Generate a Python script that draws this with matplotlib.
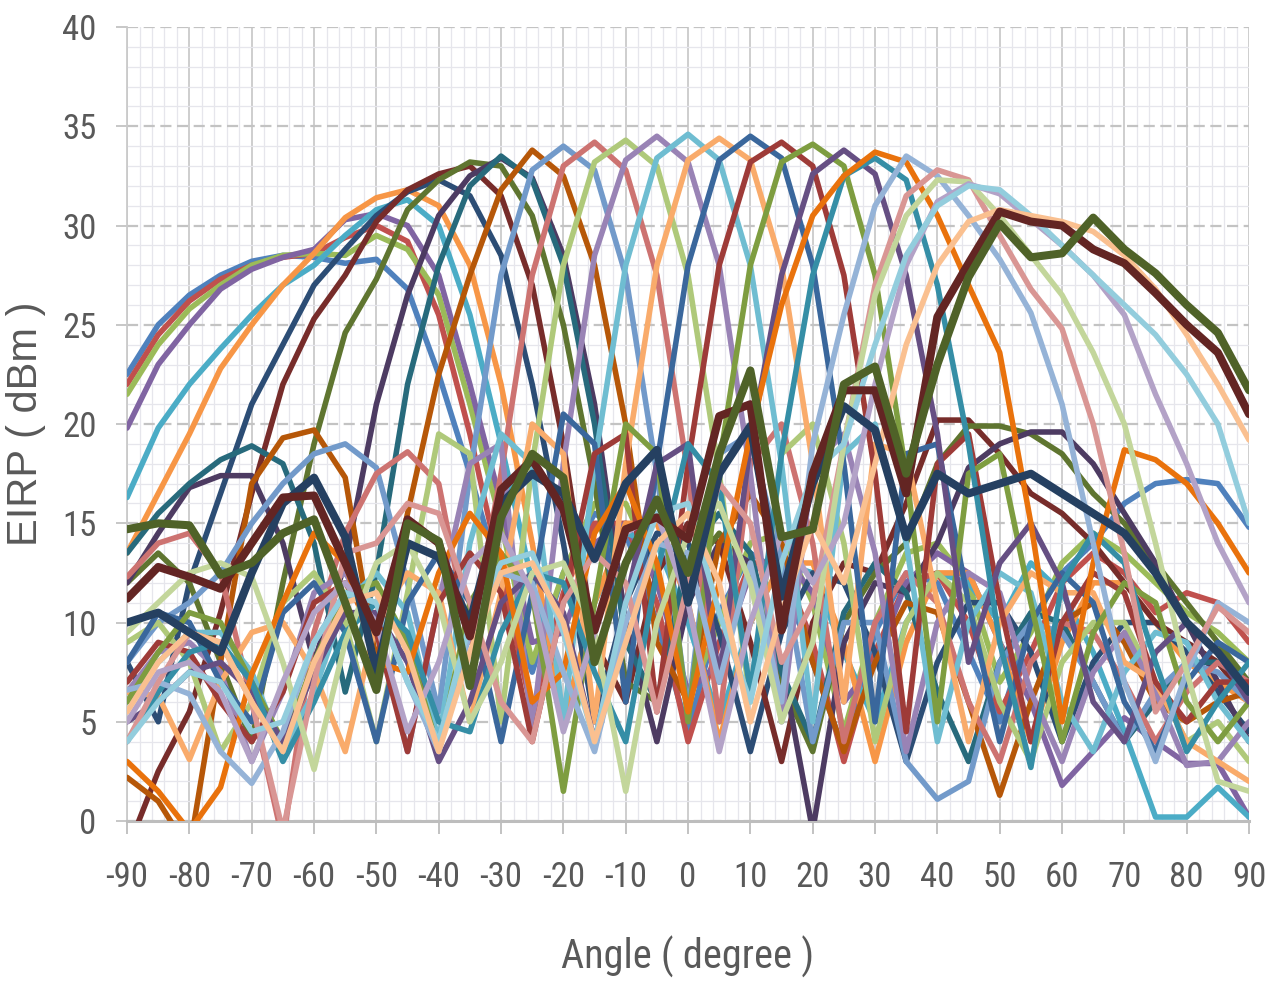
import matplotlib
matplotlib.use("Agg")
import matplotlib.pyplot as plt
from matplotlib.ticker import MultipleLocator
from matplotlib import font_manager
from matplotlib.font_manager import FontProperties

plt.rcParams['axes.unicode_minus'] = False

# angle grid of the measurement (degrees)
angles = list(range(-90, 95, 5))

# EIRP (dBm) per beam
s01 = [22.5, 25.0, 26.5, 27.5, 28.2, 28.5, 28.4, 28.1, 28.3, 26.8, 22.5, 17.5, 12.0, 7.5, 12.5, 15.5, 14.5, 10.0, 4.5, 10.5, 13.5, 12.5, 8.0, 3.5, 9.5, 12.5, 12.0, 8.5, 5.0, 10.0, 12.5, 14.0, 16.0, 17.0, 17.2, 17.0, 14.8]
s02 = [22.0, 24.5, 26.2, 27.3, 28.0, 28.4, 28.6, 29.4, 30.0, 29.2, 25.5, 19.5, 12.5, 5.5, 11.5, 15.0, 15.0, 11.0, 4.0, 9.0, 13.0, 13.0, 9.0, 3.0, 8.5, 12.0, 12.5, 10.0, 5.5, 8.5, 12.0, 13.5, 12.5, 10.5, 11.5, 11.0, 9.0]
s03 = [21.5, 24.0, 25.8, 27.0, 28.0, 28.5, 28.6, 28.5, 29.5, 28.8, 26.5, 21.0, 15.0, 8.0, 12.5, 16.0, 16.0, 12.5, 6.0, 10.0, 14.0, 14.5, 11.0, 4.5, 10.0, 13.5, 14.0, 12.0, 7.0, 9.5, 13.0, 14.5, 13.5, 12.0, 10.5, 9.5, 8.0]
s04 = [19.8, 23.0, 25.0, 26.8, 27.8, 28.4, 28.8, 30.3, 30.6, 30.0, 27.5, 22.0, 16.0, 9.0, 9.5, 14.0, 15.0, 12.0, 6.5, 8.0, 12.5, 13.5, 11.5, 6.0, 8.0, 12.0, 13.5, 12.5, 9.0, 6.0, 1.8, 3.5, 5.2, 4.0, 2.9, 2.9, 0.2]
s05 = [16.3, 19.8, 22.0, 23.8, 25.5, 27.0, 28.0, 29.5, 30.8, 31.3, 30.0, 25.5, 19.0, 12.0, 5.0, 11.0, 14.5, 14.0, 10.0, 5.0, 10.0, 13.0, 12.5, 8.5, 5.0, 10.0, 12.5, 12.0, 10.0, 13.0, 11.5, 8.5, 4.5, 0.2, 0.2, 1.7, 0.2]
s06 = [13.5, 16.5, 19.5, 22.8, 25.0, 27.0, 28.6, 30.4, 31.4, 31.8, 31.0, 28.0, 22.0, 14.0, 5.0, 11.0, 15.0, 15.0, 11.0, 4.0, 10.0, 13.0, 13.0, 9.0, 3.0, 9.0, 12.5, 12.5, 9.0, 4.0, 9.0, 12.0, 12.0, 10.0, 8.0, 7.0, 6.0]
s07 = [8.0, 5.0, 12.0, 16.5, 21.0, 24.0, 27.0, 28.8, 30.5, 31.7, 32.3, 31.5, 28.5, 22.0, 14.0, 5.0, 11.0, 14.5, 14.0, 9.5, 3.5, 9.5, 12.5, 12.0, 8.5, 3.0, 8.0, 11.0, 11.0, 8.5, 4.0, 8.0, 10.0, 10.0, 8.5, 6.5, 4.5]
s08 = [-1.5, 2.5, 5.5, 10.5, 16.5, 22.0, 25.3, 27.5, 30.2, 31.8, 32.6, 33.0, 31.5, 27.0, 19.0, 9.0, 6.0, 12.5, 15.0, 14.0, 9.0, 3.0, 10.0, 13.0, 12.5, 16.0, 20.2, 20.2, 18.5, 16.5, 15.5, 14.0, 12.0, 10.0, 9.0, 8.0, 6.0]
s09 = [12.0, 13.5, 12.0, 8.0, 4.0, 12.0, 19.0, 24.6, 27.3, 30.8, 32.3, 33.2, 33.0, 30.5, 25.0, 17.0, 7.0, 6.0, 12.5, 14.5, 12.5, 7.0, 3.5, 10.0, 12.5, 14.0, 18.0, 19.9, 19.9, 19.5, 18.5, 16.5, 15.0, 13.0, 11.0, 9.0, 7.0]
s10 = [12.0, 14.5, 16.8, 17.4, 17.4, 14.0, 8.0, 13.0, 21.0, 26.5, 30.5, 32.5, 33.4, 32.4, 28.5, 21.0, 10.0, 4.0, 11.0, 14.0, 13.0, 8.0, -0.5, 9.0, 12.0, 11.5, 14.0, 17.8, 19.0, 19.6, 19.6, 18.0, 15.5, 13.0, 10.0, 7.0, 4.0]
s11 = [13.5, 15.5, 17.0, 18.2, 18.9, 18.0, 14.0, 6.5, 12.5, 22.0, 28.0, 32.0, 33.5, 32.3, 28.0, 20.0, 9.0, 6.0, 13.5, 15.5, 13.5, 7.5, 4.0, 10.5, 13.0, 11.5, 6.5, 3.0, 8.0, 10.5, 10.0, 7.0, 4.0, 6.0, 8.0, 8.0, 7.0]
s12 = [2.2, 1.0, -1.5, 8.0, 17.0, 19.3, 19.7, 17.3, 8.0, 15.5, 22.5, 27.5, 31.8, 33.8, 32.5, 28.0, 20.0, 9.0, 6.0, 14.0, 16.5, 14.0, 8.0, 3.5, 8.0, 11.0, 10.5, 6.0, 1.3, 6.0, 10.0, 11.0, 9.0, 6.0, 5.0, 6.0, 6.5]
s13 = [8.0, 10.0, 11.0, 12.5, 15.0, 17.0, 18.5, 19.0, 17.8, 12.0, 5.5, 17.5, 27.5, 32.8, 34.0, 32.8, 27.5, 17.5, 5.5, 18.5, 19.5, 13.0, 4.0, 10.0, 10.0, 3.0, 1.1, 2.0, 8.0, 10.0, 9.5, 7.0, 4.0, 6.5, 8.0, 7.5, 6.0]
s14 = [12.3, 14.0, 14.5, 12.5, 6.0, -1.0, 9.5, 14.5, 17.5, 18.6, 17.0, 9.0, 17.5, 27.5, 33.0, 34.2, 32.8, 27.5, 17.5, 5.0, 18.0, 20.0, 14.0, 4.0, 10.0, 12.5, 11.0, 6.0, 3.0, 8.0, 10.0, 9.5, 7.0, 4.0, 6.5, 8.0, 7.0]
s15 = [9.0, 10.0, 8.0, 3.5, 6.0, 11.0, 12.5, 10.0, 4.0, 11.5, 19.5, 18.5, 5.0, 18.0, 28.0, 33.2, 34.3, 33.0, 27.5, 17.5, 6.0, 18.5, 20.0, 14.0, 4.0, 10.0, 12.5, 11.0, 6.0, 3.0, 8.0, 10.0, 10.0, 7.0, 4.0, 5.0, 3.0]
s16 = [6.5, 8.5, 9.0, 7.5, 3.0, 6.5, 11.5, 12.5, 10.0, 3.5, 11.0, 18.0, 19.0, 4.5, 18.0, 28.5, 33.3, 34.5, 33.2, 28.0, 17.5, 5.0, 18.0, 19.5, 13.5, 3.5, 10.0, 12.5, 11.5, 6.5, 3.0, 7.5, 9.5, 6.5, 2.8, 3.0, 5.0]
s17 = [6.0, 8.0, 9.5, 9.5, 7.5, 3.5, 6.5, 11.0, 12.5, 10.5, 4.0, 14.0, 19.5, 18.0, 5.0, 18.0, 28.0, 33.4, 34.6, 33.3, 28.0, 18.0, 5.0, 18.5, 20.0, 14.0, 4.0, 10.0, 12.5, 11.5, 6.0, 3.5, 7.5, 9.5, 9.0, 6.0, 4.0]
s18 = [6.5, 6.3, 3.1, 7.0, 9.5, 10.0, 7.5, 3.5, 10.0, 12.5, 11.5, 5.0, 11.5, 20.0, 18.5, 5.0, 18.0, 28.0, 33.3, 34.4, 33.3, 28.0, 18.0, 6.0, 19.0, 18.5, 11.0, 4.0, 10.0, 12.5, 11.5, 11.5, 8.0, 7.0, 4.0, 3.0, 2.0]
s19 = [8.0, 10.5, 10.0, 7.0, 5.0, 10.5, 12.0, 9.5, 4.0, 11.0, 13.5, 11.0, 4.0, 11.5, 20.5, 19.0, 6.0, 18.0, 28.0, 33.3, 34.5, 33.4, 28.0, 18.0, 5.0, 18.5, 19.0, 11.0, 4.0, 10.0, 12.5, 11.0, 6.0, 3.5, 7.0, 9.0, 8.0]
s20 = [7.0, 9.0, 8.5, 6.0, 4.0, 6.5, 11.0, 12.0, 9.5, 3.5, 11.0, 13.5, 11.5, 4.0, 11.0, 18.5, 19.5, 5.5, 18.0, 28.0, 33.2, 34.2, 33.0, 27.5, 17.5, 4.5, 18.0, 19.5, 11.0, 4.0, 10.0, 12.5, 11.5, 7.0, 5.0, 7.0, 7.0]
s21 = [6.0, 8.5, 10.5, 10.0, 7.0, 4.0, 8.0, 11.5, 12.0, 9.0, 3.5, 11.0, 13.5, 11.5, 1.5, 11.0, 20.0, 18.5, 5.0, 18.0, 28.0, 33.2, 34.1, 33.0, 27.5, 17.5, 5.0, 17.5, 18.5, 11.0, 4.0, 9.5, 12.0, 11.0, 6.0, 4.0, 6.0]
s22 = [5.0, 6.0, 7.5, 8.0, 6.5, 4.0, 7.5, 10.5, 10.5, 8.0, 3.0, 6.0, 11.0, 12.5, 10.5, 4.0, 11.0, 18.0, 19.0, 7.0, 19.0, 27.5, 32.6, 33.8, 32.6, 27.5, 19.5, 8.0, 13.0, 15.0, 12.0, 6.0, 4.0, 8.5, 10.0, 8.5, 6.0]
s23 = [4.0, 6.5, 8.5, 9.0, 7.0, 3.0, 6.0, 9.5, 11.0, 9.5, 5.0, 4.5, 9.5, 12.5, 12.0, 7.5, 4.0, 12.5, 19.0, 17.0, 6.5, 18.5, 27.5, 32.5, 33.4, 32.3, 27.0, 19.0, 9.0, 2.7, 12.0, 14.5, 13.0, 8.0, 3.5, 6.0, 8.0]
s24 = [3.0, 1.5, -0.5, 1.7, 7.4, 11.0, 14.5, 13.0, 8.0, 7.5, 12.5, 15.5, 13.5, 6.0, 7.5, 14.5, 17.0, 13.0, 5.5, 12.0, 19.5, 26.0, 30.5, 32.5, 33.7, 33.2, 30.5, 27.0, 23.6, 15.0, 5.0, 13.0, 18.7, 18.2, 17.0, 15.0, 12.5]
s25 = [6.6, 7.0, 6.4, 3.5, 1.9, 4.5, 9.0, 11.5, 11.0, 7.0, 3.5, 9.5, 12.5, 12.0, 7.5, 3.5, 10.0, 14.0, 13.5, 7.0, 13.0, 6.0, 19.0, 25.5, 31.0, 33.5, 32.5, 30.5, 28.3, 25.6, 21.0, 14.0, 7.0, 3.0, 7.5, 11.0, 10.0]
s26 = [4.0, 7.0, 9.5, 9.0, 6.0, -0.5, 7.0, 13.5, 14.0, 16.0, 15.5, 11.0, 6.0, 4.0, 11.0, 13.5, 12.0, 5.5, 12.0, 17.0, 15.0, 8.0, 11.0, 19.0, 27.0, 31.5, 32.8, 32.3, 29.5, 26.8, 24.8, 20.0, 13.5, 5.5, 8.0, 10.8, 9.5]
s27 = [9.5, 11.0, 12.5, 13.0, 12.3, 8.0, 2.6, 9.0, 13.0, 14.0, 11.0, 5.0, 8.0, 12.5, 13.0, 9.5, 1.5, 10.0, 14.5, 16.0, 12.0, 5.0, 9.0, 19.0, 26.5, 30.5, 32.3, 32.2, 30.5, 28.5, 26.5, 23.6, 20.0, 14.0, 7.5, 2.0, 1.5]
s28 = [5.0, 7.5, 8.0, 6.5, 3.0, 7.0, 10.5, 12.0, 10.0, 4.5, 8.0, 13.0, 14.5, 11.5, 4.5, 9.5, 14.5, 15.5, 11.0, 3.5, 10.0, 14.5, 12.0, 15.0, 22.0, 28.0, 31.2, 32.1, 31.6, 30.3, 29.0, 27.5, 25.5, 21.5, 18.0, 14.0, 11.0]
s29 = [4.0, 6.0, 7.5, 7.0, 4.5, 5.0, 9.0, 11.5, 11.0, 7.0, 4.0, 10.0, 13.0, 13.5, 9.5, 4.0, 11.0, 15.5, 16.0, 10.5, 6.0, 13.0, 17.5, 19.0, 24.0, 28.5, 31.0, 32.0, 31.8, 30.5, 29.0, 27.5, 26.0, 24.5, 22.5, 20.0, 15.0]
s30 = [5.5, 8.0, 9.5, 9.0, 6.0, 3.5, 8.0, 11.0, 11.5, 8.5, 3.5, 8.5, 12.5, 13.0, 10.0, 4.0, 9.0, 14.0, 15.5, 12.0, 5.0, 10.5, 15.0, 12.0, 18.0, 24.0, 28.0, 30.2, 30.8, 30.5, 30.2, 29.7, 28.5, 26.8, 24.5, 22.0, 19.2]
s31 = [10.0, 10.5, 9.5, 8.5, 12.5, 16.0, 17.3, 14.3, 7.5, 14.0, 13.3, 10.0, 16.0, 17.5, 16.5, 13.2, 17.0, 18.7, 11.0, 17.5, 19.9, 11.3, 17.0, 20.9, 19.7, 14.3, 17.5, 16.5, 17.0, 17.5, 16.5, 15.5, 14.5, 12.5, 10.0, 8.5, 6.5]
s32 = [11.2, 12.8, 12.3, 11.7, 14.0, 16.3, 16.4, 13.0, 9.5, 15.2, 14.0, 9.3, 16.7, 18.2, 15.7, 9.6, 14.7, 15.3, 14.2, 20.4, 21.0, 9.6, 17.5, 21.7, 21.7, 16.5, 25.4, 28.1, 30.7, 30.2, 30.0, 28.8, 28.1, 26.6, 25.0, 23.6, 20.5]
s33 = [14.7, 15.0, 14.9, 12.4, 13.0, 14.5, 15.2, 11.0, 6.6, 15.0, 14.1, 6.8, 15.3, 18.5, 17.3, 8.0, 13.0, 16.2, 12.5, 18.5, 22.7, 14.3, 14.7, 22.0, 22.9, 17.5, 23.0, 27.4, 30.1, 28.4, 28.6, 30.4, 28.8, 27.6, 26.0, 24.6, 21.7]

series = [s01, s02, s03, s04, s05, s06, s07, s08, s09, s10, s11,
          s12, s13, s14, s15, s16, s17, s18, s19, s20, s21, s22,
          s23, s24, s25, s26, s27, s28, s29, s30, s31, s32, s33]

colors = ['#4F81BD', '#C0504D', '#9BBB59', '#8064A2', '#4BACC6', '#F79646',
          '#2C4D75', '#772C2A', '#5F7530', '#4D3B62', '#276A7C', '#B65708',
          '#729ACA', '#CD7371', '#AFC97A', '#9983B5', '#6FBDD1', '#F9AB6B',
          '#3A679C', '#9E3B38', '#7E9D40', '#664F83', '#358EA6', '#E9720C',
          '#95B3D7', '#D99694', '#C3D69B', '#B3A2C7', '#93CDDD', '#FAC090',
          '#254061', '#632523', '#4F6228']

# look for a condensed face for the Excel-like numbers
pref = ['Liberation Sans Narrow', 'Roboto Condensed', 'Open Sans Condensed',
        'Noto Sans Condensed', 'DejaVu Sans Condensed', 'DejaVu Sans']
cands = []
for f in font_manager.fontManager.ttflist:
    if f.style != 'normal' or f.weight not in (400, 'normal', 'regular', 'book'):
        continue
    if ('Narrow' in f.name or 'Condensed' in f.name
            or f.stretch in ('condensed', 'semi-condensed', 'extra-condensed')):
        cands.append(f)
cands.sort(key=lambda f: pref.index(f.name) if f.name in pref else 99)

def narrow_font(size):
    if cands:
        return FontProperties(fname=cands[0].fname, size=size)
    return FontProperties(family='Liberation Sans', size=size * 0.85)

txt = '#595959'

fig = plt.figure(figsize=(12.77, 9.88), dpi=100)
ax = fig.add_axes([0.0995, 0.169, 0.8786, 0.8036])

for i, (vals, col) in enumerate(zip(series, colors)):
    lw = 5.8 if i >= 30 else 4.0
    ax.plot(angles, vals, color=col, lw=lw, solid_joinstyle='round',
            solid_capstyle='round', zorder=3 + i * 0.01)

ax.set_xlim(-90, 90)
ax.set_ylim(0, 40)
ax.xaxis.set_major_locator(MultipleLocator(10))
ax.xaxis.set_minor_locator(MultipleLocator(2))
ax.yaxis.set_major_locator(MultipleLocator(5))
ax.yaxis.set_minor_locator(MultipleLocator(1))

ax.set_axisbelow(True)
ax.grid(which='minor', color='#e6e6ec', lw=0.9)
ax.grid(which='major', axis='x', color='#cacaca', lw=1.3)
ax.grid(which='major', axis='y', color='#c3c3c3', lw=1.6, ls=(0, (5, 2.5)))

for side in ['top', 'right']:
    ax.spines[side].set_visible(False)
ax.spines['left'].set_color('#cacaca')
ax.spines['left'].set_linewidth(1.3)
ax.spines['bottom'].set_color('#bdbdbd')
ax.spines['bottom'].set_linewidth(2.2)

ax.tick_params(which='minor', length=0)
ax.tick_params(axis='x', which='major', length=9, width=1.3, color='#bdbdbd',
               pad=20, labelcolor=txt)
ax.tick_params(axis='y', which='major', length=8, width=1.3, color='#c3c3c3',
               pad=14, labelcolor=txt)
tick_fp = narrow_font(25)
for lab in ax.get_xticklabels() + ax.get_yticklabels():
    lab.set_fontproperties(tick_fp)

ax.set_xlabel('Angle ( degree )', fontproperties=narrow_font(29), color=txt)
ax.xaxis.set_label_coords(0.5, -0.145)
ax.set_ylabel('EIRP ( dBm )', family='Liberation Sans', fontsize=30, color=txt)
ax.yaxis.set_label_coords(-0.072, 0.5)

fig.savefig('out.png', dpi=100)
